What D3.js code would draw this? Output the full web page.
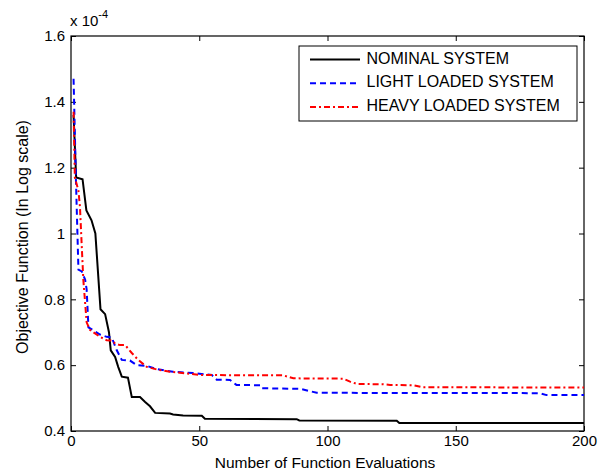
<!DOCTYPE html>
<html>
<head>
<meta charset="utf-8">
<script src="https://cdn.jsdelivr.net/npm/d3@7"></script>
<style>
  body { margin: 0; background: #fff; }
  svg text { font-family: "Liberation Sans", Arial, sans-serif; }
</style>
</head>
<body>
<script>
// values (x = evaluation number, y = objective in units of 1e-4)
const nominalX = [1, 2, 4.5, 6, 8, 9.5, 11.5, 13.3, 14.8, 15.5, 17.2, 18.4, 19.8, 22.2, 23.7, 26.9, 28.9, 30.8, 32.8, 38.6, 39.8, 43.7, 51, 52.2, 88, 89, 127, 128, 200];
const nominalY = [1.36, 1.17, 1.165, 1.07, 1.04, 1.0, 0.77, 0.755, 0.70, 0.645, 0.625, 0.595, 0.565, 0.562, 0.503, 0.503, 0.488, 0.475, 0.455, 0.453, 0.45, 0.447, 0.446, 0.437, 0.436, 0.432, 0.431, 0.424, 0.424];

const lightX = [1, 1.9, 2.9, 4.2, 5.5, 6.1, 6.8, 11.3, 13.9, 15.9, 17.8, 19.8, 23, 25.6, 29.5, 33.4, 39.8, 47.6, 54.9, 56.8, 62, 64.5, 73.8, 74.4, 89.5, 95.8, 182.8, 185.4, 200];
const lightY = [1.47, 1.17, 0.89, 0.885, 0.86, 0.83, 0.715, 0.693, 0.686, 0.684, 0.646, 0.616, 0.614, 0.6, 0.598, 0.588, 0.58, 0.576, 0.57, 0.556, 0.555, 0.54, 0.539, 0.53, 0.528, 0.516, 0.515, 0.509, 0.509];

const heavyX = [1, 1.5, 2.9, 3.5, 4.2, 4.8, 5.5, 6.1, 7.4, 11.3, 13.9, 15.9, 17.2, 19.1, 21.1, 23.7, 26.2, 29.5, 33.4, 38.6, 45.1, 50.3, 82.8, 86.7, 106.2, 108.8, 111.4, 121.7, 124.4, 133.4, 137.2, 200];
const heavyY = [1.37, 1.17, 1.13, 1.08, 0.96, 0.86, 0.79, 0.73, 0.707, 0.686, 0.676, 0.675, 0.666, 0.661, 0.661, 0.637, 0.616, 0.595, 0.587, 0.58, 0.575, 0.57, 0.569, 0.56, 0.559, 0.55, 0.543, 0.542, 0.54, 0.539, 0.533, 0.532];

const xTicks = [0, 50, 100, 150, 200];
const yTicks = [0.4, 0.6, 0.8, 1.0, 1.2, 1.4, 1.6];
const seriesNames = ['NOMINAL SYSTEM', 'LIGHT LOADED SYSTEM', 'HEAVY LOADED SYSTEM'];

const width = 605, height = 472;
const margin = { top: 36, right: 21, bottom: 41, left: 71 };
const plotW = width - margin.left - margin.right;
const plotH = height - margin.top - margin.bottom;

const svg = d3.select('body').append('svg')
  .attr('width', width)
  .attr('height', height);

const x = d3.scaleLinear().domain([0, 200]).range([0, plotW]);
const y = d3.scaleLinear().domain([0.4, 1.6]).range([plotH, 0]);

const g = svg.append('g')
  .attr('transform', 'translate(' + margin.left + ',' + margin.top + ')');

// axes, ticks pointing inward like matlab
const axisStyle = (sel) => {
  sel.select('.domain').remove();
  sel.selectAll('line').attr('stroke', '#000');
  sel.selectAll('text').attr('fill', '#000').style('font-size', '15px');
};

g.append('g')
  .attr('transform', 'translate(0,' + plotH + ')')
  .call(d3.axisBottom(x).tickValues(xTicks).tickSize(-5).tickPadding(4).tickFormat(d3.format('d')))
  .call(axisStyle);
g.append('g')
  .call(d3.axisTop(x).tickValues(xTicks).tickSize(-5).tickFormat(''))
  .call(axisStyle);
g.append('g')
  .call(d3.axisLeft(y).tickValues(yTicks).tickSize(-5).tickPadding(6).tickFormat((d) => d3.format('.1f')(d).replace('1.0', '1')))
  .call(axisStyle);
g.append('g')
  .attr('transform', 'translate(' + plotW + ',0)')
  .call(d3.axisRight(y).tickValues(yTicks).tickSize(-5).tickFormat(''))
  .call(axisStyle);

g.append('rect')
  .attr('width', plotW)
  .attr('height', plotH)
  .attr('fill', 'none')
  .attr('stroke', '#000')
  .attr('stroke-width', 1.2);

// exponent label
const expo = svg.append('text')
  .attr('x', margin.left - 1)
  .attr('y', 26)
  .style('font-size', '15px');
expo.append('tspan').text('x 10');
expo.append('tspan').attr('dy', -8).style('font-size', '11px').text('-4');

// axis titles
svg.append('text')
  .attr('x', 325)
  .attr('y', 468)
  .attr('text-anchor', 'middle')
  .style('font-size', '15.5px')
  .text('Number of Function Evaluations');
svg.append('text')
  .attr('transform', 'translate(28,237) rotate(-90)')
  .attr('text-anchor', 'middle')
  .style('font-size', '16px')
  .text('Objective Function (In Log scale)');

// lines
const series = [
  { xs: nominalX, ys: nominalY, color: '#000', dash: null },
  { xs: lightX, ys: lightY, color: '#0000ff', dash: '6,4' },
  { xs: heavyX, ys: heavyY, color: '#ff0000', dash: '6,3,2,3' }
];
const line = d3.line().x((d) => x(d[0])).y((d) => y(d[1]));

series.forEach((s) => {
  g.append('path')
    .datum(d3.zip(s.xs, s.ys))
    .attr('d', line)
    .attr('fill', 'none')
    .attr('stroke', s.color)
    .attr('stroke-width', 2)
    .attr('stroke-dasharray', s.dash);
});

// legend
const legend = svg.append('g').attr('transform', 'translate(299,46)');
legend.append('rect')
  .attr('width', 278)
  .attr('height', 75)
  .attr('fill', '#fff')
  .attr('stroke', '#000')
  .attr('stroke-width', 1);
seriesNames.forEach((name, i) => {
  const ly = 13.5 + i * 23.7;
  legend.append('line')
    .attr('x1', 11).attr('x2', 61)
    .attr('y1', ly).attr('y2', ly)
    .attr('stroke', series[i].color)
    .attr('stroke-width', 2)
    .attr('stroke-dasharray', series[i].dash);
  legend.append('text')
    .attr('x', 67.5)
    .attr('y', ly + 4)
    .style('font-size', '16px')
    .text(name);
});
</script>
</body>
</html>
